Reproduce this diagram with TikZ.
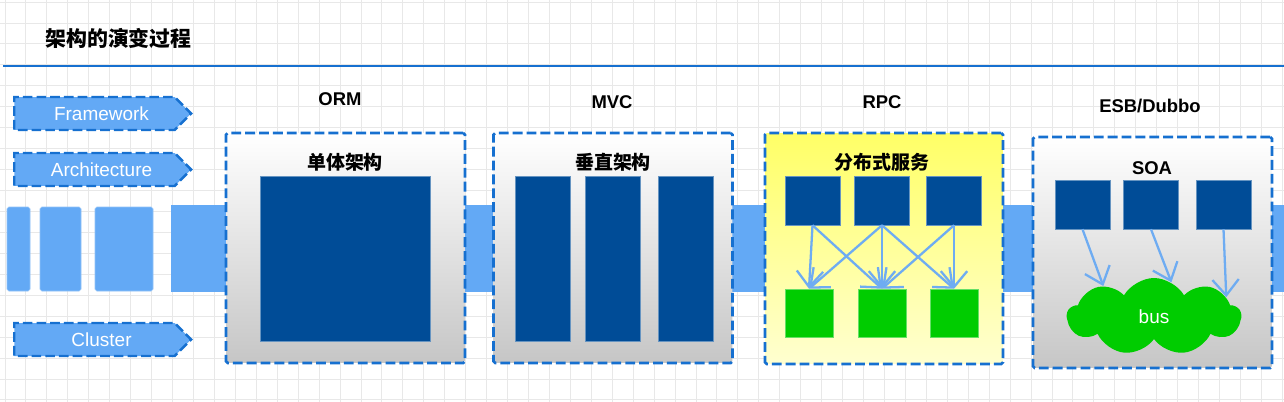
\documentclass[tikz,border=0pt]{standalone}
\usepackage{fontspec}
\setmainfont{Liberation Sans}
\newfontfamily\cjk{Noto Sans CJK SC}
\usetikzlibrary{shapes.symbols,arrows.meta}
\definecolor{gridgray}{RGB}{232,232,232}
\definecolor{lineblue}{RGB}{22,112,208}
\definecolor{bandblue}{RGB}{99,169,245}
\definecolor{modblue}{RGB}{0,76,151}
\definecolor{svcgreen}{RGB}{0,204,0}
\definecolor{flowblue}{RGB}{110,172,242}
\definecolor{boxgray}{RGB}{198,198,198}
\definecolor{rpcyellow}{RGB}{255,255,102}
\definecolor{rpcpale}{RGB}{255,255,208}
\begin{document}
\begin{tikzpicture}[x=0.02cm,y=-0.02cm,
 tag/.style={signal,signal to=east,fill=bandblue,draw=lineblue,line width=1.4pt,dash pattern=on 5.5pt off 2.3pt,text=white,font=\fontsize{10.8}{12}\selectfont,minimum width=3.54cm,minimum height=0.66cm,inner sep=0pt,execute at begin node=\hspace*{8pt}},
 stage/.style={draw=lineblue,line width=1.5pt,dash pattern=on 5.6pt off 2.3pt,rounded corners=1pt,top color=white,bottom color=boxgray,minimum width=4.78cm,minimum height=4.6cm},
 era/.style={font=\bfseries\fontsize{10.5}{12}\selectfont},
 kind/.style={font=\cjk\bfseries\fontsize{10.8}{12}\selectfont},
 module/.style={fill=modblue,draw=modblue!60!white,line width=0.3pt,inner sep=0pt},
 service/.style={fill=svcgreen,draw=svcgreen!60!white,line width=0.3pt,inner sep=0pt,minimum width=0.96cm,minimum height=0.96cm},
 flow/.style={draw=flowblue,line width=1.3pt,-{Straight Barb[length=9pt,width=15pt]}},
 piece/.style={fill=bandblue,draw=bandblue!70!white,line width=0.3pt,rounded corners=1pt}]
 \useasboundingbox (0,0) rectangle (1284,402);
 \fill[white](0,0) rectangle (1284,402);
 \foreach \i in {0,...,61} \draw[gridgray,line width=0.55pt](5+20.94*\i,0)--(5+20.94*\i,402);
 \foreach \j in {0,...,19} \draw[gridgray,line width=0.55pt](0,2.1+20.94*\j)--(1284,2.1+20.94*\j);
 \node[anchor=west,inner sep=0pt,font=\cjk\bfseries\fontsize{11.9}{14}\selectfont] (title) at (45,38) {架构的演变过程};
 \draw[lineblue,line width=1.6pt](3,66)--(1284,66);
 \fill[bandblue](171,205) rectangle (1284,292);
 \draw[piece](7,207) rectangle (30,291);
 \draw[piece](40,207) rectangle (81,291);
 \draw[piece](95,207) rectangle (153,291);
 \node[tag] (framework) at (94.5,113.5) {Framework};
 \node[tag] (architecture) at (94.5,169.5) {Architecture};
 \node[tag] (cluster) at (94.5,339.5) {Cluster};
 \node[stage] (orm) at (345.5,248) {};
 \node[era] (ormlabel) at (340,99) {ORM};
 \node[kind] (ormkind) at (345,162) {单体架构};
 \node[module,minimum width=3.4cm,minimum height=3.3cm] (mono) at (345,258.5) {};
 \node[stage] (mvc) at (613,248) {};
 \node[era] (mvclabel) at (612,102) {MVC};
 \node[kind] (mvckind) at (613,162) {垂直架构};
 \foreach \x/\n in {542.5/1,612.5/2,685.5/3}
  \node[module,minimum width=1.1cm,minimum height=3.3cm] (tier\n) at (\x,258.5) {};
 \node[stage,top color=rpcyellow,bottom color=rpcpale,minimum width=4.76cm,minimum height=4.62cm] (rpc) at (884,248.5) {};
 \node[era] (rpclabel) at (882,102) {RPC};
 \node[kind] (rpckind) at (882,162) {分布式服务};
 \foreach \x/\n in {812.5/1,882/2,954/3}
  \node[module,minimum width=1.1cm,minimum height=0.98cm] (prov\n) at (\x,200.5) {};
 \foreach \x/\n in {809/1,882/2,954/3}
  \node[service] (cons\n) at (\x,313) {};
 \foreach \a/\b in {1/1,1/2,2/1,2/2,2/3,3/2,3/3}
  \draw[flow] (prov\a.south)--(cons\b.north);
 \node[stage,minimum width=4.78cm,minimum height=4.62cm] (esb) at (1152.5,252.5) {};
 \node[era] (esblabel) at (1150,106) {ESB/Dubbo};
 \node[era] (soa) at (1152,168) {SOA};
 \foreach \x/\n in {1082.5/1,1151/2,1223.5/3}
  \node[module,minimum width=1.1cm,minimum height=0.98cm] (svc\n) at (\x,204.5) {};
 \node[cloud,cloud puffs=9,cloud puff arc=120,aspect=2.3,fill=svcgreen,inner sep=0pt,minimum width=3.48cm,minimum height=1.54cm,text=white,font=\fontsize{10.8}{12}\selectfont] (bus) at (1154,316.5) {bus};
 \draw[flow] (svc1.south)--(bus.149);
 \draw[flow] (svc2.south)--(bus.63);
 \draw[flow] (svc3.south)--(bus.15);
\end{tikzpicture}
\end{document}
